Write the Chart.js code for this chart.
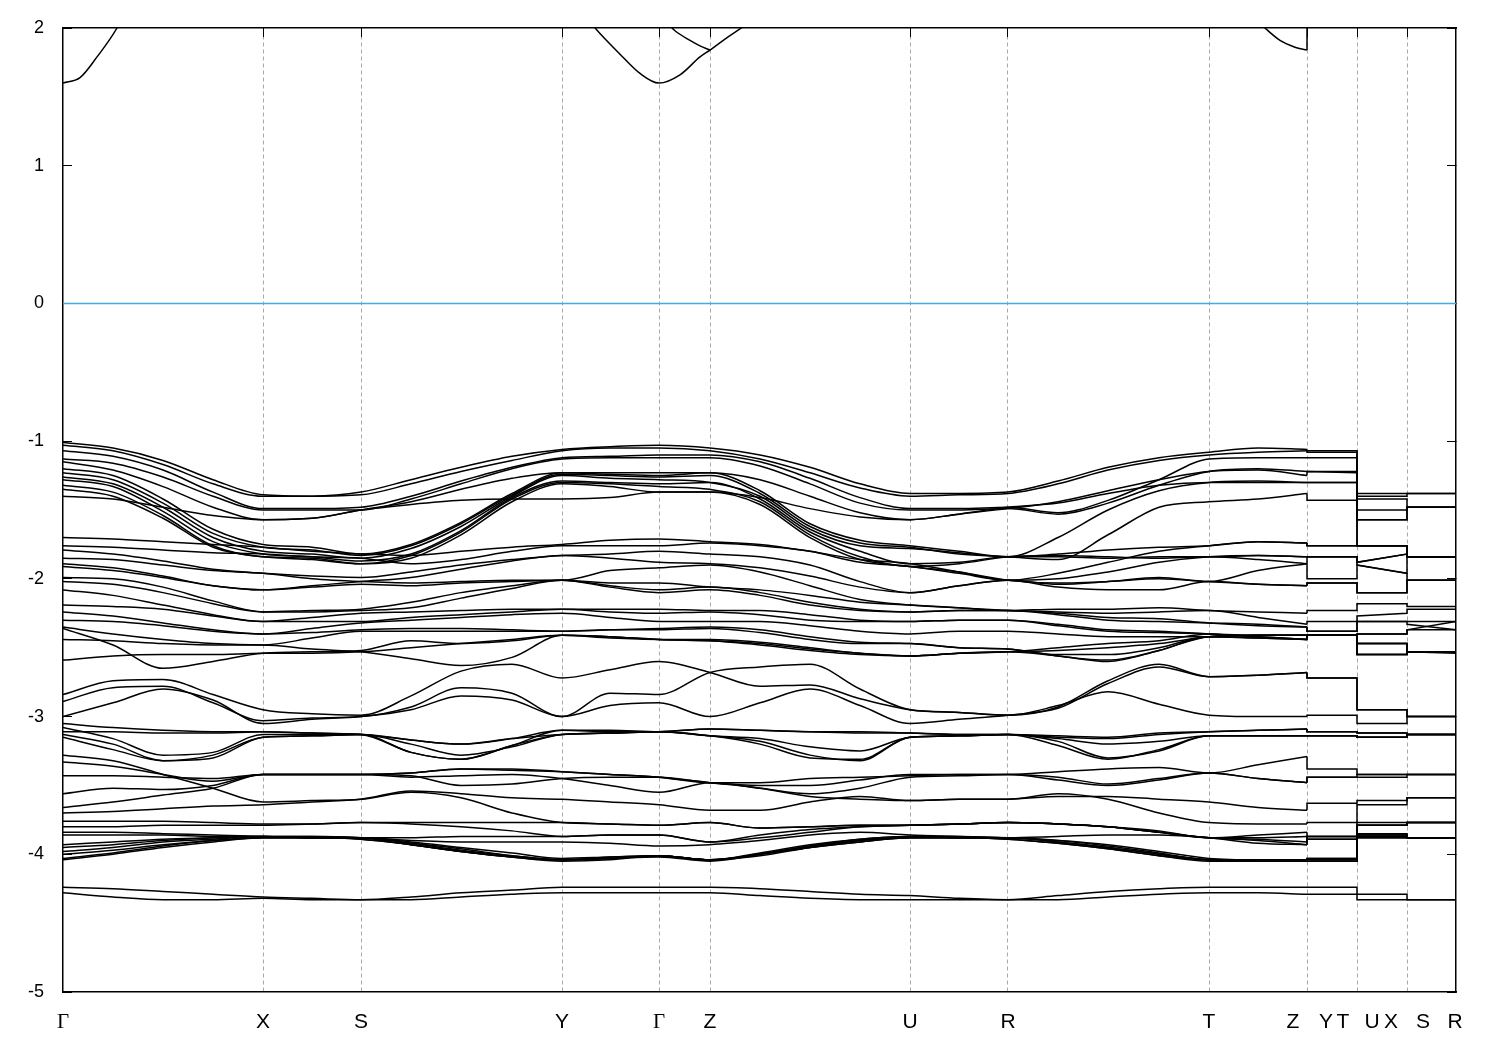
<!DOCTYPE html>
<html>
<head>
<meta charset="utf-8">
<script src="https://cdn.jsdelivr.net/npm/chart.js@4.4.1/dist/chart.umd.min.js"></script>
<style>
  html, body { margin: 0; padding: 0; background: #fff; }
  #wrap { width: 1500px; height: 1050px; }
</style>
</head>
<body>
<div id="wrap"><canvas id="bands" width="1500" height="1050"></canvas></div>
<script>
// k-path: G-X-S-Y-G-Z-U-R-T-Z|Y-T|U-X|S-R  (k in arbitrary path units)
const kSamples = [0, 0.50, 1.00, 1.50, 2.00, 2.49, 2.98, 3.48, 3.98, 4.49, 4.99, 5.47, 5.96,
  6.47, 6.97, 7.47, 7.97, 8.47, 8.96, 9.45, 9.95, 10.45, 10.96, 11.46, 11.95, 12.44];
// after Z the path jumps: Y-T, U-X, S-R
const kTail = [12.44, 12.94, 12.94, 13.44, 13.44, 13.93];

const symK = [2.00, 2.98, 4.99, 5.96, 6.47, 8.47, 9.45, 11.46, 12.44, 12.94, 13.44];
const labelK = [0, 2.00, 2.98, 4.99, 5.96, 6.47, 8.47, 9.45, 11.46, 12.30, 12.63, 12.80, 13.09, 13.28, 13.60, 13.92];
const labelText = ['Γ', 'X', 'S', 'Y', 'Γ', 'Z', 'U', 'R', 'T', 'Z', 'Y', 'T', 'U', 'X', 'S', 'R'];

const fermiLevel = 0;
const kEnds = [0, 13.93];

// valence bands, energies in eV
const upperBands = [
  [-1.01,-1.05,-1.14,-1.28,-1.39,-1.40,-1.37,-1.28,-1.19,-1.11,-1.06,-1.04,-1.03,-1.05,-1.10,-1.19,-1.31,-1.38,-1.38,-1.37,-1.29,-1.19,-1.12,-1.08,-1.05,-1.06],
  [-1.03,-1.07,-1.17,-1.31,-1.40,-1.40,-1.39,-1.31,-1.22,-1.14,-1.07,-1.05,-1.05,-1.07,-1.13,-1.23,-1.34,-1.40,-1.39,-1.38,-1.31,-1.21,-1.14,-1.10,-1.08,-1.07],
  [-1.07,-1.11,-1.21,-1.37,-1.49,-1.49,-1.48,-1.40,-1.29,-1.19,-1.12,-1.11,-1.10,-1.10,-1.15,-1.27,-1.41,-1.49,-1.49,-1.48,-1.52,-1.43,-1.28,-1.13,-1.12,-1.12],
  [-1.13,-1.16,-1.26,-1.40,-1.50,-1.50,-1.50,-1.42,-1.31,-1.20,-1.13,-1.12,-1.12,-1.12,-1.18,-1.31,-1.45,-1.50,-1.50,-1.49,-1.53,-1.45,-1.32,-1.22,-1.20,-1.22],
  [-1.15,-1.21,-1.33,-1.48,-1.57,-1.56,-1.50,-1.44,-1.35,-1.27,-1.23,-1.23,-1.23,-1.23,-1.28,-1.40,-1.52,-1.57,-1.53,-1.49,-1.44,-1.36,-1.28,-1.22,-1.21,-1.25],
  [-1.40,-1.42,-1.48,-1.54,-1.57,-1.56,-1.50,-1.46,-1.43,-1.42,-1.42,-1.41,-1.37,-1.37,-1.41,-1.49,-1.55,-1.57,-1.53,-1.48,-1.45,-1.38,-1.32,-1.30,-1.30,-1.30],
  [-1.20,-1.25,-1.42,-1.64,-1.75,-1.77,-1.82,-1.75,-1.59,-1.38,-1.23,-1.24,-1.25,-1.23,-1.36,-1.60,-1.72,-1.76,-1.80,-1.84,-1.70,-1.50,-1.36,-1.30,-1.29,-1.30],
  [-1.23,-1.28,-1.45,-1.67,-1.77,-1.79,-1.83,-1.76,-1.60,-1.39,-1.24,-1.25,-1.26,-1.25,-1.38,-1.62,-1.74,-1.77,-1.82,-1.84,-1.86,-1.68,-1.48,-1.44,-1.42,-1.38],
  [-1.26,-1.31,-1.48,-1.70,-1.80,-1.82,-1.85,-1.78,-1.62,-1.40,-1.25,-1.27,-1.28,-1.30,-1.40,-1.64,-1.76,-1.78,-1.81,-1.84,-1.82,-1.79,-1.77,-1.76,-1.73,-1.74],
  [-1.28,-1.33,-1.51,-1.73,-1.82,-1.84,-1.87,-1.82,-1.65,-1.41,-1.29,-1.30,-1.31,-1.30,-1.42,-1.66,-1.80,-1.89,-1.88,-1.84,-1.84,-1.85,-1.84,-1.84,-1.83,-1.84],
  [-1.32,-1.37,-1.54,-1.76,-1.84,-1.85,-1.89,-1.83,-1.66,-1.42,-1.30,-1.31,-1.33,-1.35,-1.44,-1.68,-1.84,-1.91,-1.89,-1.84,-1.83,-1.84,-1.85,-1.84,-1.86,-1.89],
  [-1.35,-1.40,-1.56,-1.77,-1.84,-1.86,-1.89,-1.85,-1.68,-1.44,-1.31,-1.33,-1.37,-1.37,-1.46,-1.70,-1.86,-1.91,-1.95,-2.01,-2.03,-2.02,-2.00,-2.02,-2.04,-2.05]
];
const upperTails = [
  [-1.07,-1.07,-1.38,-1.38,-1.38,-1.38], [-1.08,-1.08,-1.40,-1.40,-1.38,-1.38],
  [-1.12,-1.12,-1.42,-1.42,-1.48,-1.48], [-1.22,-1.22,-1.50,-1.50,-1.48,-1.48],
  [-1.22,-1.23,-1.57,-1.57,-1.48,-1.48], [-1.30,-1.30,-1.57,-1.57,-1.48,-1.48],
  [-1.30,-1.30,-1.76,-1.76,-1.84,-1.84], [-1.43,-1.43,-1.76,-1.76,-1.84,-1.84],
  [-1.76,-1.76,-1.76,-1.76,-1.84,-1.84], [-1.84,-1.84,-1.88,-1.82,-1.84,-1.84],
  [-1.84,-1.84,-1.90,-1.96,-1.84,-1.84], [-2.03,-2.03,-2.10,-2.10,-2.01,-2.01]
];

const midBands = [
  [-1.70,-1.71,-1.73,-1.75,-1.77,-1.80,-1.82,-1.83,-1.80,-1.77,-1.75,-1.72,-1.71,-1.73,-1.75,-1.80,-1.86,-1.89,-1.95,-2.01,-1.96,-1.88,-1.80,-1.76,-1.73,-1.74],
  [-1.76,-1.77,-1.79,-1.81,-1.82,-1.84,-1.85,-1.89,-1.86,-1.80,-1.76,-1.76,-1.76,-1.74,-1.76,-1.80,-1.88,-1.91,-1.96,-2.01,-2.00,-1.95,-1.88,-1.84,-1.83,-1.84],
  [-1.79,-1.82,-1.87,-1.93,-1.96,-1.98,-1.99,-1.95,-1.90,-1.86,-1.83,-1.82,-1.80,-1.82,-1.84,-1.90,-2.02,-2.10,-2.05,-2.01,-2.04,-2.02,-1.99,-2.02,-1.94,-1.89],
  [-1.85,-1.86,-1.90,-1.94,-1.96,-2.00,-2.02,-2.03,-2.02,-2.01,-2.01,-1.94,-1.92,-1.90,-1.95,-2.05,-2.15,-2.19,-2.21,-2.23,-2.22,-2.22,-2.21,-2.23,-2.24,-2.25],
  [-1.89,-1.92,-1.98,-2.05,-2.08,-2.05,-2.02,-1.99,-1.93,-1.87,-1.83,-1.85,-1.88,-1.89,-1.92,-1.98,-2.06,-2.10,-2.05,-2.01,-2.06,-2.08,-2.08,-2.02,-2.04,-2.05],
  [-1.91,-1.94,-1.99,-2.05,-2.08,-2.06,-2.04,-2.05,-2.03,-2.02,-2.01,-2.03,-2.03,-2.06,-2.08,-2.12,-2.17,-2.19,-2.21,-2.23,-2.24,-2.25,-2.24,-2.23,-2.28,-2.33],
  [-1.99,-2.00,-2.06,-2.16,-2.24,-2.23,-2.22,-2.17,-2.10,-2.05,-2.01,-2.05,-2.08,-2.06,-2.10,-2.17,-2.22,-2.24,-2.23,-2.23,-2.25,-2.28,-2.29,-2.32,-2.34,-2.35],
  [-2.02,-2.04,-2.10,-2.18,-2.24,-2.24,-2.23,-2.21,-2.14,-2.07,-2.01,-2.06,-2.10,-2.08,-2.12,-2.19,-2.23,-2.24,-2.23,-2.23,-2.26,-2.30,-2.31,-2.32,-2.33,-2.35],
  [-2.08,-2.12,-2.19,-2.26,-2.31,-2.28,-2.25,-2.24,-2.23,-2.22,-2.22,-2.22,-2.22,-2.23,-2.23,-2.26,-2.30,-2.31,-2.30,-2.30,-2.33,-2.37,-2.38,-2.40,-2.42,-2.44],
  [-2.19,-2.20,-2.22,-2.27,-2.31,-2.31,-2.31,-2.28,-2.26,-2.24,-2.22,-2.24,-2.25,-2.24,-2.26,-2.30,-2.31,-2.31,-2.30,-2.30,-2.34,-2.38,-2.39,-2.40,-2.42,-2.44],
  [-2.24,-2.27,-2.32,-2.37,-2.40,-2.36,-2.32,-2.30,-2.28,-2.26,-2.25,-2.28,-2.31,-2.31,-2.31,-2.34,-2.38,-2.40,-2.38,-2.38,-2.40,-2.42,-2.42,-2.42,-2.41,-2.41],
  [-2.30,-2.31,-2.34,-2.38,-2.40,-2.39,-2.37,-2.36,-2.36,-2.37,-2.38,-2.37,-2.36,-2.35,-2.37,-2.42,-2.46,-2.47,-2.50,-2.51,-2.56,-2.59,-2.52,-2.42,-2.43,-2.44],
  [-2.35,-2.40,-2.44,-2.47,-2.48,-2.43,-2.38,-2.38,-2.38,-2.38,-2.38,-2.37,-2.37,-2.36,-2.39,-2.44,-2.47,-2.47,-2.50,-2.51,-2.55,-2.55,-2.50,-2.42,-2.43,-2.44],
  [-2.36,-2.48,-2.65,-2.60,-2.54,-2.53,-2.52,-2.45,-2.47,-2.45,-2.41,-2.43,-2.44,-2.44,-2.46,-2.50,-2.54,-2.56,-2.54,-2.53,-2.56,-2.60,-2.52,-2.42,-2.41,-2.41],
  [-2.44,-2.45,-2.47,-2.48,-2.48,-2.51,-2.53,-2.58,-2.63,-2.57,-2.41,-2.42,-2.44,-2.45,-2.48,-2.52,-2.55,-2.56,-2.54,-2.53,-2.50,-2.47,-2.45,-2.40,-2.41,-2.41],
  [-2.59,-2.56,-2.55,-2.55,-2.54,-2.54,-2.53,-2.50,-2.47,-2.44,-2.41,-2.42,-2.44,-2.45,-2.47,-2.51,-2.54,-2.56,-2.54,-2.53,-2.52,-2.50,-2.47,-2.42,-2.41,-2.41]
];
const midTails = [
  [-1.76,-1.76,-1.76,-1.76,-1.84,-1.84], [-1.84,-1.84,-1.88,-1.82,-1.84,-1.84],
  [-2.00,-2.00,-1.90,-1.96,-2.01,-2.01], [-2.23,-2.23,-2.18,-2.18,-2.20,-2.20],
  [-2.03,-2.03,-2.10,-2.10,-2.01,-2.01], [-2.31,-2.31,-2.27,-2.25,-2.22,-2.22],
  [-2.38,-2.38,-2.31,-2.31,-2.31,-2.31], [-2.38,-2.38,-2.31,-2.31,-2.33,-2.37],
  [-2.41,-2.41,-2.40,-2.40,-2.37,-2.31], [-2.41,-2.41,-2.40,-2.40,-2.37,-2.37],
  [-2.41,-2.41,-2.47,-2.47,-2.53,-2.53], [-2.41,-2.41,-2.55,-2.55,-2.53,-2.54],
  [-2.41,-2.41,-2.55,-2.55,-2.53,-2.53], [-2.41,-2.41,-2.47,-2.47,-2.53,-2.53],
  [-2.41,-2.41,-2.55,-2.55,-2.53,-2.53], [-2.41,-2.41,-2.47,-2.47,-2.53,-2.53]
];

const lowerBands = [
  [-2.84,-2.74,-2.73,-2.84,-2.95,-2.98,-2.99,-2.85,-2.67,-2.62,-2.72,-2.66,-2.60,-2.68,-2.78,-2.77,-2.87,-2.95,-2.97,-2.99,-2.93,-2.74,-2.62,-2.71,-2.70,-2.68],
  [-2.89,-2.79,-2.78,-2.90,-3.03,-3.01,-3.00,-2.93,-2.79,-2.83,-3.00,-2.83,-2.84,-2.68,-2.64,-2.62,-2.80,-2.95,-2.97,-2.99,-2.92,-2.82,-2.91,-2.99,-3.00,-3.00],
  [-3.00,-2.90,-2.80,-2.88,-3.05,-3.02,-3.00,-2.95,-2.85,-2.88,-3.00,-2.92,-2.90,-3.00,-2.90,-2.80,-2.92,-3.05,-3.02,-2.99,-2.94,-2.76,-2.64,-2.71,-2.70,-2.68],
  [-3.05,-3.08,-3.10,-3.11,-3.11,-3.12,-3.13,-3.17,-3.20,-3.16,-3.10,-3.10,-3.11,-3.09,-3.10,-3.11,-3.11,-3.12,-3.13,-3.13,-3.15,-3.16,-3.13,-3.11,-3.10,-3.09],
  [-3.08,-3.16,-3.28,-3.26,-3.13,-3.13,-3.13,-3.26,-3.31,-3.21,-3.13,-3.12,-3.11,-3.14,-3.18,-3.28,-3.32,-3.15,-3.14,-3.13,-3.21,-3.31,-3.24,-3.14,-3.14,-3.14],
  [-3.13,-3.20,-3.32,-3.30,-3.15,-3.14,-3.13,-3.17,-3.20,-3.16,-3.13,-3.12,-3.11,-3.14,-3.16,-3.22,-3.25,-3.15,-3.14,-3.13,-3.16,-3.20,-3.18,-3.14,-3.14,-3.14],
  [-3.11,-3.11,-3.12,-3.12,-3.11,-3.12,-3.13,-3.26,-3.31,-3.21,-3.10,-3.11,-3.11,-3.09,-3.10,-3.11,-3.12,-3.12,-3.13,-3.13,-3.14,-3.15,-3.12,-3.11,-3.10,-3.09],
  [-3.15,-3.24,-3.32,-3.28,-3.15,-3.14,-3.13,-3.20,-3.28,-3.22,-3.13,-3.12,-3.11,-3.14,-3.20,-3.30,-3.31,-3.15,-3.14,-3.13,-3.18,-3.30,-3.25,-3.14,-3.14,-3.14],
  [-3.28,-3.32,-3.42,-3.52,-3.62,-3.61,-3.60,-3.55,-3.59,-3.70,-3.77,-3.78,-3.79,-3.77,-3.81,-3.80,-3.79,-3.79,-3.78,-3.77,-3.78,-3.80,-3.84,-3.88,-3.89,-3.91],
  [-3.33,-3.36,-3.42,-3.47,-3.42,-3.42,-3.42,-3.43,-3.50,-3.49,-3.45,-3.44,-3.44,-3.48,-3.50,-3.50,-3.46,-3.42,-3.42,-3.42,-3.40,-3.38,-3.37,-3.41,-3.35,-3.29],
  [-3.43,-3.43,-3.44,-3.45,-3.42,-3.42,-3.42,-3.41,-3.38,-3.39,-3.40,-3.42,-3.44,-3.48,-3.48,-3.45,-3.44,-3.43,-3.42,-3.42,-3.44,-3.49,-3.45,-3.41,-3.45,-3.48],
  [-3.56,-3.52,-3.53,-3.50,-3.42,-3.42,-3.42,-3.44,-3.43,-3.42,-3.45,-3.50,-3.55,-3.48,-3.52,-3.56,-3.52,-3.44,-3.43,-3.42,-3.46,-3.50,-3.46,-3.41,-3.45,-3.48],
  [-3.66,-3.62,-3.57,-3.52,-3.42,-3.42,-3.42,-3.41,-3.38,-3.38,-3.40,-3.42,-3.44,-3.48,-3.52,-3.58,-3.60,-3.61,-3.60,-3.60,-3.58,-3.58,-3.60,-3.62,-3.66,-3.68],
  [-3.70,-3.69,-3.67,-3.65,-3.64,-3.62,-3.60,-3.54,-3.56,-3.59,-3.60,-3.62,-3.64,-3.68,-3.68,-3.62,-3.58,-3.61,-3.60,-3.60,-3.56,-3.60,-3.70,-3.77,-3.78,-3.78],
  [-3.76,-3.76,-3.76,-3.77,-3.78,-3.78,-3.77,-3.78,-3.80,-3.83,-3.87,-3.86,-3.86,-3.91,-3.88,-3.84,-3.80,-3.79,-3.78,-3.77,-3.78,-3.80,-3.83,-3.88,-3.88,-3.87],
  [-3.80,-3.80,-3.79,-3.79,-3.79,-3.78,-3.77,-3.77,-3.77,-3.77,-3.77,-3.78,-3.79,-3.77,-3.81,-3.80,-3.79,-3.79,-3.78,-3.77,-3.78,-3.80,-3.84,-3.88,-3.86,-3.84],
  [-3.84,-3.84,-3.85,-3.86,-3.87,-3.87,-3.88,-3.93,-3.98,-4.02,-4.04,-4.02,-4.01,-4.04,-4.00,-3.94,-3.89,-3.87,-3.88,-3.88,-3.90,-3.94,-3.99,-4.04,-4.04,-4.04],
  [-3.86,-3.86,-3.86,-3.87,-3.87,-3.88,-3.88,-3.92,-3.96,-4.01,-4.04,-4.03,-4.01,-4.04,-4.01,-3.95,-3.90,-3.87,-3.88,-3.88,-3.91,-3.95,-4.00,-4.04,-4.05,-4.05],
  [-3.93,-3.91,-3.89,-3.88,-3.87,-3.88,-3.88,-3.88,-3.87,-3.87,-3.87,-3.86,-3.86,-3.91,-3.86,-3.82,-3.80,-3.79,-3.78,-3.77,-3.78,-3.80,-3.84,-3.88,-3.90,-3.93],
  [-3.95,-3.93,-3.90,-3.88,-3.87,-3.87,-3.88,-3.91,-3.95,-3.99,-4.03,-4.02,-4.01,-4.04,-3.99,-3.93,-3.89,-3.87,-3.87,-3.88,-3.90,-3.93,-3.98,-4.03,-4.04,-4.04],
  [-3.98,-3.95,-3.91,-3.89,-3.87,-3.88,-3.88,-3.90,-3.91,-3.91,-3.91,-3.92,-3.94,-3.93,-3.90,-3.86,-3.84,-3.86,-3.87,-3.88,-3.87,-3.86,-3.86,-3.88,-3.92,-3.93],
  [-4.00,-3.97,-3.93,-3.90,-3.88,-3.88,-3.88,-3.92,-3.97,-4.01,-4.04,-4.03,-4.02,-4.05,-4.00,-3.94,-3.90,-3.88,-3.88,-3.88,-3.91,-3.95,-4.00,-4.04,-4.05,-4.05],
  [-4.03,-3.99,-3.94,-3.90,-3.88,-3.88,-3.89,-3.93,-3.98,-4.02,-4.04,-4.03,-4.01,-4.04,-4.00,-3.95,-3.91,-3.88,-3.88,-3.89,-3.92,-3.96,-4.01,-4.04,-4.04,-4.04],
  [-4.04,-4.00,-3.95,-3.91,-3.88,-3.88,-3.89,-3.93,-3.98,-4.02,-4.05,-4.04,-4.01,-4.04,-4.00,-3.95,-3.91,-3.88,-3.88,-3.89,-3.92,-3.96,-4.01,-4.05,-4.05,-4.05]
];
const lowerTails = [
  [-2.72,-2.72,-2.95,-2.95,-3.00,-3.00], [-2.99,-2.99,-3.05,-3.05,-3.00,-3.00],
  [-2.72,-2.72,-2.95,-2.95,-3.00,-3.00], [-3.11,-3.11,-3.12,-3.12,-3.13,-3.13],
  [-3.14,-3.14,-3.15,-3.15,-3.13,-3.13], [-3.14,-3.14,-3.15,-3.15,-3.13,-3.13],
  [-3.11,-3.11,-3.12,-3.12,-3.13,-3.13], [-3.14,-3.14,-3.15,-3.15,-3.13,-3.13],
  [-3.87,-3.87,-3.79,-3.79,-3.77,-3.77], [-3.38,-3.38,-3.42,-3.42,-3.42,-3.42],
  [-3.44,-3.44,-3.44,-3.44,-3.42,-3.42], [-3.44,-3.44,-3.42,-3.42,-3.42,-3.42],
  [-3.63,-3.63,-3.61,-3.61,-3.59,-3.59], [-3.77,-3.77,-3.64,-3.64,-3.59,-3.59],
  [-3.87,-3.87,-3.79,-3.79,-3.77,-3.77], [-3.89,-3.89,-3.77,-3.77,-3.77,-3.77],
  [-4.03,-4.03,-3.86,-3.86,-3.88,-3.88], [-4.05,-4.05,-3.86,-3.86,-3.88,-3.88],
  [-3.87,-3.87,-3.79,-3.79,-3.77,-3.77], [-4.03,-4.03,-3.87,-3.87,-3.88,-3.88],
  [-3.89,-3.89,-3.85,-3.85,-3.88,-3.88], [-4.05,-4.05,-3.88,-3.88,-3.88,-3.88],
  [-4.04,-4.04,-3.87,-3.87,-3.88,-3.88], [-4.05,-4.05,-3.88,-3.88,-3.88,-3.88]
];

const bottomBands = [
  [-4.24,-4.25,-4.27,-4.29,-4.31,-4.32,-4.33,-4.31,-4.28,-4.26,-4.24,-4.24,-4.24,-4.24,-4.25,-4.27,-4.29,-4.30,-4.32,-4.33,-4.30,-4.27,-4.25,-4.24,-4.24,-4.24],
  [-4.28,-4.31,-4.33,-4.33,-4.32,-4.33,-4.33,-4.33,-4.31,-4.29,-4.28,-4.28,-4.28,-4.28,-4.30,-4.32,-4.33,-4.33,-4.33,-4.33,-4.33,-4.31,-4.29,-4.28,-4.28,-4.29]
];
const bottomTails = [
  [-4.24,-4.24,-4.29,-4.29,-4.33,-4.33],
  [-4.29,-4.29,-4.33,-4.33,-4.33,-4.33]
];

// conduction band pieces that dip below 2 eV
const condK1 = [0, 0.17, 0.34, 0.54, 0.62];
const condE1 = [1.60, 1.64, 1.79, 2.00, 2.12];
const condK2 = [5.25, 5.37, 5.57, 5.77, 5.96, 6.17, 6.37, 6.47, 6.62, 6.82, 6.92];
const condE2 = [2.06, 1.96, 1.81, 1.67, 1.60, 1.66, 1.79, 1.84, 1.92, 2.02, 2.08];
const condK3 = [6.05, 6.12, 6.27, 6.37, 6.47];
const condE3 = [2.03, 1.98, 1.91, 1.87, 1.84];
const condK4 = [11.95, 12.02, 12.17, 12.32, 12.44];
const condE4 = [2.05, 2.00, 1.91, 1.86, 1.84];
const condTail4 = [2.30];

function checkLen(list, n, name) {
  list.forEach((a, i) => { if (a.length !== n) throw new Error(name + '[' + i + '] has ' + a.length); });
}
checkLen(upperBands, kSamples.length, 'upperBands'); checkLen(upperTails, kTail.length, 'upperTails');
checkLen(midBands, kSamples.length, 'midBands'); checkLen(midTails, kTail.length, 'midTails');
checkLen(lowerBands, kSamples.length, 'lowerBands'); checkLen(lowerTails, kTail.length, 'lowerTails');
checkLen(bottomBands, kSamples.length, 'bottomBands'); checkLen(bottomTails, kTail.length, 'bottomTails');

function lineSet(points, smooth, color) {
  return {
    data: points,
    borderColor: color || '#000',
    borderWidth: 1.5,
    pointRadius: 0,
    fill: false,
    tension: 0,
    cubicInterpolationMode: smooth ? 'monotone' : 'default'
  };
}

const datasets = [];
// Fermi level
datasets.push(lineSet(kEnds.map(k => ({ x: k, y: fermiLevel })), false, '#4aa8e0'));

function addBands(bands, tails) {
  bands.forEach((vals, b) => {
    datasets.push(lineSet(kSamples.map((k, i) => ({ x: k, y: vals[i] })), true));
    const start = { x: kSamples[kSamples.length - 1], y: vals[vals.length - 1] };
    datasets.push(lineSet([start].concat(kTail.map((k, i) => ({ x: k, y: tails[b][i] }))), false));
  });
}
addBands(upperBands, upperTails);
addBands(midBands, midTails);
addBands(lowerBands, lowerTails);
addBands(bottomBands, bottomTails);

datasets.push(lineSet(condK1.map((k, i) => ({ x: k, y: condE1[i] })), true));
datasets.push(lineSet(condK2.map((k, i) => ({ x: k, y: condE2[i] })), true));
datasets.push(lineSet(condK3.map((k, i) => ({ x: k, y: condE3[i] })), true));
datasets.push(lineSet(condK4.map((k, i) => ({ x: k, y: condE4[i] })), true));
datasets.push(lineSet([{ x: condK4[condK4.length - 1], y: condE4[condE4.length - 1] }, { x: kTail[0], y: condTail4[0] }], false));

new Chart(document.getElementById('bands'), {
  type: 'line',
  data: { datasets: datasets },
  options: {
    responsive: false,
    animation: false,
    devicePixelRatio: 1,
    layout: { padding: { left: 0, right: 44, top: 28, bottom: 0 } },
    plugins: { legend: { display: false }, tooltip: { enabled: false } },
    scales: {
      x: {
        type: 'linear', position: 'bottom', min: 0, max: 13.93,
        afterBuildTicks: s => { s.ticks = labelK.map(v => ({ value: v })); },
        afterFit: s => { s.height = 58; s.paddingLeft = 0; s.paddingRight = 0; },
        grid: { display: false },
        border: { display: true, color: '#000', width: 1.5 },
        ticks: {
          autoSkip: false, maxRotation: 0, minRotation: 0, padding: 10, color: '#000',
          callback: (v, i) => labelText[i],
          font: ctx => ({
            family: labelText[ctx.index] === 'Γ' ? 'Liberation Serif' : 'Liberation Sans',
            size: 21
          })
        }
      },
      xg: {
        type: 'linear', position: 'top', min: 0, max: 13.93,
        afterBuildTicks: s => { s.ticks = symK.map(v => ({ value: v })); },
        afterFit: s => { s.height = 0; s.paddingLeft = 0; s.paddingRight = 0; },
        ticks: { display: false },
        grid: { color: '#a9a9a9', lineWidth: 1, drawTicks: true, tickLength: -9, tickColor: '#000', tickWidth: 1 },
        border: { display: true, color: '#000', width: 1.5, dash: [4, 3] }
      },
      y: {
        type: 'linear', position: 'left', min: -5, max: 2,
        afterFit: s => { s.width = 63; s.paddingTop = 0; s.paddingBottom = 0; },
        ticks: {
          stepSize: 1, padding: 28, color: '#000',
          font: { family: 'Liberation Sans', size: 18 },
          callback: v => String(v)
        },
        grid: { drawOnChartArea: false, drawTicks: true, tickLength: -9, tickColor: '#000', tickWidth: 1 },
        border: { display: true, color: '#000', width: 1.5 }
      },
      yr: {
        type: 'linear', position: 'right', min: -5, max: 2,
        afterFit: s => { s.width = 0; s.paddingTop = 0; s.paddingBottom = 0; },
        ticks: { stepSize: 1, display: false },
        grid: { drawOnChartArea: false, tickLength: -9, tickColor: '#000', tickWidth: 1 },
        border: { display: true, color: '#000', width: 1.5 }
      }
    }
  }
});
</script>
</body>
</html>
